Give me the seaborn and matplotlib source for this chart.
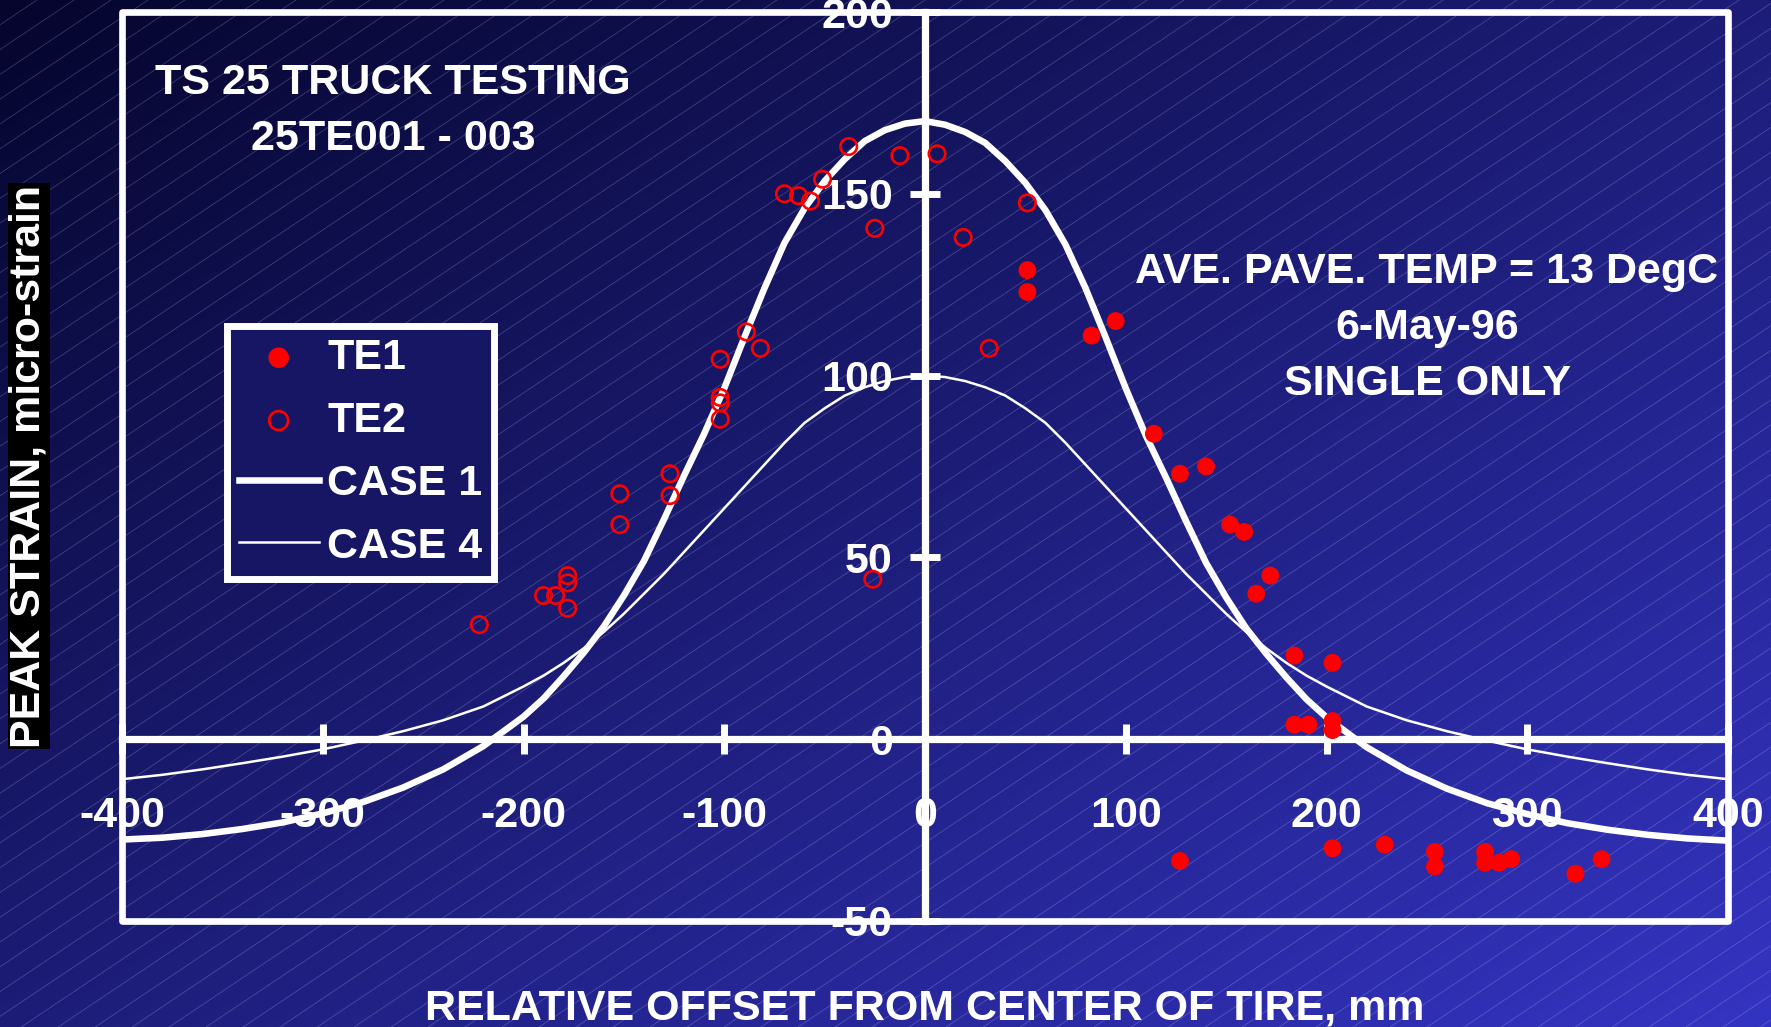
import numpy as np
import pandas as pd
import matplotlib
matplotlib.use("Agg")
import matplotlib.pyplot as plt
from matplotlib.patches import Rectangle
import seaborn as sns

# ---- measured peak strains (micro-strain) vs. offset (mm) ----
te1_offset = [51, 51, 83, 95, 114, 127, 140, 152, 159, 165, 172, 184, 203, 184,
              191, 203, 203, 127, 203, 229, 254, 254, 279, 279, 286, 292, 324, 337]
te1_strain = [129, 123, 111, 115, 84, 73, 75, 59, 57, 40, 45, 23, 21, 4,
              4, 5, 2.5, -33.5, -30, -29, -31, -35, -31, -34, -34, -33, -37, -33]

te2_offset = [-38, -12.5, 6, -51, -70, -63, -57, -25, 19, 51, 32, -89, -82, -102,
              -102, -102, -102, -127, -127, -152, -152, -178, -178, -184, -190, -178, -222, -26]
te2_strain = [163, 160.5, 161, 154, 150, 149.5, 148, 140.5, 138, 147.5, 107.5, 112, 107.5, 104.5,
              94, 92.5, 88, 73, 67, 67.5, 59, 45, 43, 39.5, 39.5, 36, 31.5, 44]

# ---- computed response curves ----
model_offset = [-400, -380, -360, -340, -320, -300, -280, -260, -240, -220,
                -200, -190, -180, -170, -160, -150, -140, -130, -120, -110,
                -100, -90, -80, -70, -60, -50, -40, -30, -20, -10, 0,
                10, 20, 30, 40, 50, 60, 70, 80, 90, 100,
                110, 120, 130, 140, 150, 160, 170, 180, 190, 200,
                220, 240, 260, 280, 300, 320, 340, 360, 380, 400]
case1_strain = [-27.6, -27.1, -26.1, -24.7, -22.9, -20.4, -17.3, -13.3, -8.3, -1.9,
                6.2, 11.2, 17.3, 23.8, 31, 39.5, 49, 60.5, 72.5, 84,
                96.5, 110.5, 124, 136.5, 146, 153.5, 159.5, 164.5, 167.5, 169.3, 170,
                169, 167, 164, 159, 153, 145.5, 136, 124, 110.5, 96.5,
                83.5, 72, 60, 48.5, 39, 30.5, 23.5, 17, 11, 6,
                -2.2, -8.6, -13.6, -17.6, -20.6, -23.1, -24.9, -26.3, -27.3, -27.9]
case4_strain = [-11, -9.8, -8.3, -6.6, -4.8, -2.8, -0.4, 2.2, 5.2, 9,
                14.5, 17.5, 21, 25, 29.5, 34.5, 40, 45.5, 51.5, 57.5,
                63.5, 69.5, 75.5, 81.5, 87, 91, 94.5, 96.8, 98.5, 99.6, 100,
                99.6, 98.5, 96.8, 94.5, 91, 87, 81.5, 75.5, 69.5, 63.5,
                57.5, 51.5, 45.5, 40, 34.5, 29.5, 25, 21, 17.5, 14.5,
                9, 5.2, 2.2, -0.4, -2.8, -4.8, -6.6, -8.3, -9.8, -11]

x_ticks = [-400, -300, -200, -100, 0, 100, 200, 300, 400]
y_ticks = [-50, 0, 50, 100, 150, 200]

title_lines = ["TS 25 TRUCK TESTING", "25TE001 - 003"]
note_lines = ["AVE. PAVE. TEMP = 13 DegC", "6-May-96", "SINGLE ONLY"]
x_label = "RELATIVE OFFSET FROM CENTER OF TIRE, mm"
y_label = "PEAK STRAIN, micro-strain"

te1 = pd.DataFrame({"offset": te1_offset, "strain": te1_strain})
te2 = pd.DataFrame({"offset": te2_offset, "strain": te2_strain})
model = pd.DataFrame({"offset": model_offset, "case1": case1_strain, "case4": case4_strain})

plt.rcParams["font.family"] = ["Liberation Sans", "DejaVu Sans"]
plt.rcParams["font.weight"] = "bold"
plt.rcParams["axes.unicode_minus"] = False

FS = 31
W, H, DPI = 1771, 1027, 100
fig = plt.figure(figsize=(W / DPI, H / DPI), dpi=DPI)


def fx(px):
    return px / W


def fy(py):
    return 1 - py / H


# ---- slide background: diagonal blue gradient with fine pinstripes ----
bg = fig.add_axes([0, 0, 1, 1], zorder=-10)
bg.set_axis_off()
yy, xx = np.mgrid[0:H, 0:W]
t = 0.5 * xx / W + 0.5 * yy / H
c0 = np.array([5, 5, 45]) / 255
c1 = np.array([52, 52, 195]) / 255
bg.imshow(c0 + t[..., None] * (c1 - c0), extent=(0, W, H, 0), aspect="auto")
slope = 0.67
for x0 in np.arange(-H / slope, W, 37):
    bg.plot([x0, x0 + H / slope], [H, 0], color=(0.8, 0.8, 1.0), alpha=0.25, lw=0.6)
bg.set_xlim(0, W)
bg.set_ylim(H, 0)

# ---- main plot ----
ax = fig.add_axes([fx(122), fy(921), fx(1728) - fx(122), (921 - 12) / H])
ax.patch.set_alpha(0)

sns.lineplot(data=model, x="offset", y="case1", color="white", lw=4.7,
             label="CASE 1", ax=ax, zorder=3)
sns.lineplot(data=model, x="offset", y="case4", color="white", lw=1.8,
             label="CASE 4", ax=ax, zorder=3)
sns.scatterplot(data=te1, x="offset", y="strain", color="red", s=165,
                edgecolor="none", label="TE1", ax=ax, zorder=5)
sns.scatterplot(data=te2, x="offset", y="strain", s=140, facecolor="none",
                edgecolor="red", linewidth=1.9, label="TE2", ax=ax, zorder=5)

ax.set_xlim(-400, 400)
ax.set_ylim(-50, 200)
ax.set_xlabel("")
ax.set_ylabel("")

# crossing axes through the origin
for side in ("top", "right"):
    ax.spines[side].set_visible(False)
for side in ("left", "bottom"):
    ax.spines[side].set_position(("data", 0))
    ax.spines[side].set_color("white")
    ax.spines[side].set_linewidth(5.2)
ax.set_xticks(x_ticks)
ax.set_yticks(y_ticks)
ax.tick_params(direction="inout", length=22.3, width=5, color="white",
               labelcolor="white", labelsize=FS)
ax.tick_params(axis="x", pad=30)
ax.tick_params(axis="y", pad=12)
for lab in ax.get_xticklabels() + ax.get_yticklabels():
    lab.set_fontweight("bold")

# outer frame
frame = Rectangle((0, 0), 1, 1, transform=ax.transAxes, fill=False,
                  edgecolor="white", lw=4.8, joinstyle="round", clip_on=False, zorder=4)
ax.add_patch(frame)

# legend
handles, labels = ax.get_legend_handles_labels()
order = [labels.index(k) for k in ("TE1", "TE2", "CASE 1", "CASE 4")]
leg = ax.legend([handles[i] for i in order], [labels[i] for i in order],
                loc="upper left", bbox_to_anchor=(fx(226.8), fy(326)),
                bbox_transform=fig.transFigure, borderaxespad=0, frameon=True,
                fancybox=False, facecolor="#161664", edgecolor="white", framealpha=1,
                prop={"size": FS, "weight": "bold"}, labelcolor="white",
                handlelength=1.85, handletextpad=0.2, borderpad=0.28,
                labelspacing=0.53, markerscale=1.15)
leg.get_frame().set_linewidth(5)
leg.set_zorder(6)


# annotations
def caption(px, py, s):
    fig.text(fx(px), fy(py + 15), s, ha="center", va="baseline", color="white",
             fontsize=FS, fontweight="bold")


for i, s in enumerate(title_lines):
    caption(393, 78.5 + 56.5 * i, s)
for i, s in enumerate(note_lines):
    caption(1427, 268 + 56 * i, s)
caption(925, 1005, x_label)

fig.text(fx(29), fy(466), y_label, rotation=90, ha="center", va="center",
         color="white", fontsize=FS, fontweight="bold",
         bbox=dict(facecolor="black", edgecolor="none", pad=1))

fig.savefig("out.png", dpi=DPI)
